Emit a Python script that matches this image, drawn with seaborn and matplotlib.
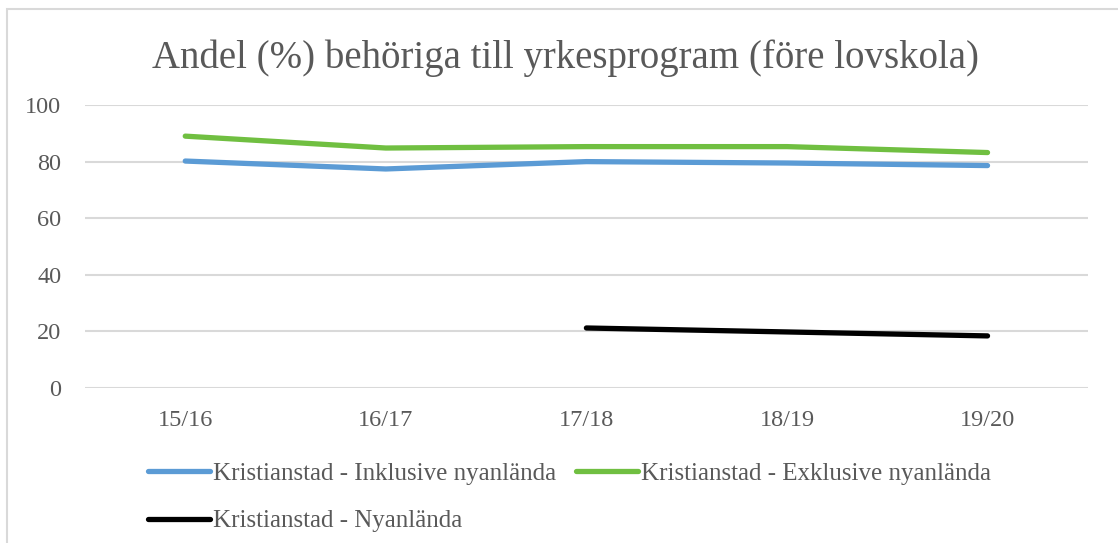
import pandas as pd
import numpy as np
import matplotlib
matplotlib.use("Agg")
import matplotlib.pyplot as plt
import seaborn as sns
from matplotlib.patches import Rectangle

# data
years = ["15/16", "16/17", "17/18", "18/19", "19/20"]
inklusive = [80.2, 77.4, 80.0, 79.5, 78.6]
exklusive = [89.0, 84.8, 85.3, 85.3, 83.2]
nyanlanda = [np.nan, np.nan, 21.2, 19.8, 18.4]

series_names = [
    "Kristianstad - Inklusive nyanlända",
    "Kristianstad - Exklusive nyanlända",
    "Kristianstad - Nyanlända",
]
colors = ["#5B9BD5", "#70BF41", "#000000"]

df = pd.concat([
    pd.DataFrame({"year": years, "value": vals, "serie": name})
    for name, vals in zip(series_names, [inklusive, exklusive, nyanlanda])
])
df["x"] = df["year"].map({y: i for i, y in enumerate(years)})
df = df.dropna()

sns.set_style("white")
plt.rcParams["font.family"] = ["Liberation Serif", "DejaVu Serif"]

text_col = "#595959"

fig = plt.figure(figsize=(11.18, 5.43), dpi=100)
ax = fig.add_axes([0.076, 0.2855, 0.897, 0.5211])

# light chart border
fig.patches.append(Rectangle((7 / 1118, -0.1), 1.2, 1 - 9 / 543 + 0.1,
                             transform=fig.transFigure, fill=False,
                             edgecolor="#D9D9D9", linewidth=1.5))

sns.lineplot(
    data=df,
    x="x",
    y="value",
    hue="serie",
    hue_order=series_names,
    palette=colors,
    linewidth=3.8,
    solid_capstyle="round",
    sort=False,
    legend=False,
    ax=ax,
)

ax.set_xlim(-0.5, len(years) - 0.5)
ax.set_ylim(0, 100)
ax.set_yticks(range(0, 101, 20))
ax.set_xticks(range(len(years)))
ax.set_xticklabels(years)
ax.set_xlabel("")
ax.set_ylabel("")
ax.grid(axis="y", color="#D9D9D9", linewidth=1.5)
ax.set_axisbelow(True)
for s in ax.spines.values():
    s.set_visible(False)
ax.tick_params(axis="both", length=0, labelsize=17.5, colors=text_col)
ax.tick_params(axis="y", pad=17)
ax.tick_params(axis="x", pad=16)

fig.text(0.506, 0.893, "Andel (%) behöriga till yrkesprogram (före lovskola)",
         ha="center", va="center", fontsize=28, color=text_col)

# column-wise fill: inklusive, nyanlända in col 1, exklusive in col 2
order = [0, 2, 1]
handles = [plt.Line2D([], [], color=colors[i], linewidth=3.8,
                      solid_capstyle="round") for i in order]
labels = [series_names[i] for i in order]
leg = fig.legend(
    handles, labels,
    loc="upper left",
    bbox_to_anchor=(0.112, 0.19),
    ncol=2,
    frameon=False,
    fontsize=18,
    handlelength=2.5,
    handletextpad=0.1,
    columnspacing=0.8,
    labelspacing=1.0,
)
for t in leg.get_texts():
    t.set_color(text_col)

fig.savefig("out.png", dpi=100)
